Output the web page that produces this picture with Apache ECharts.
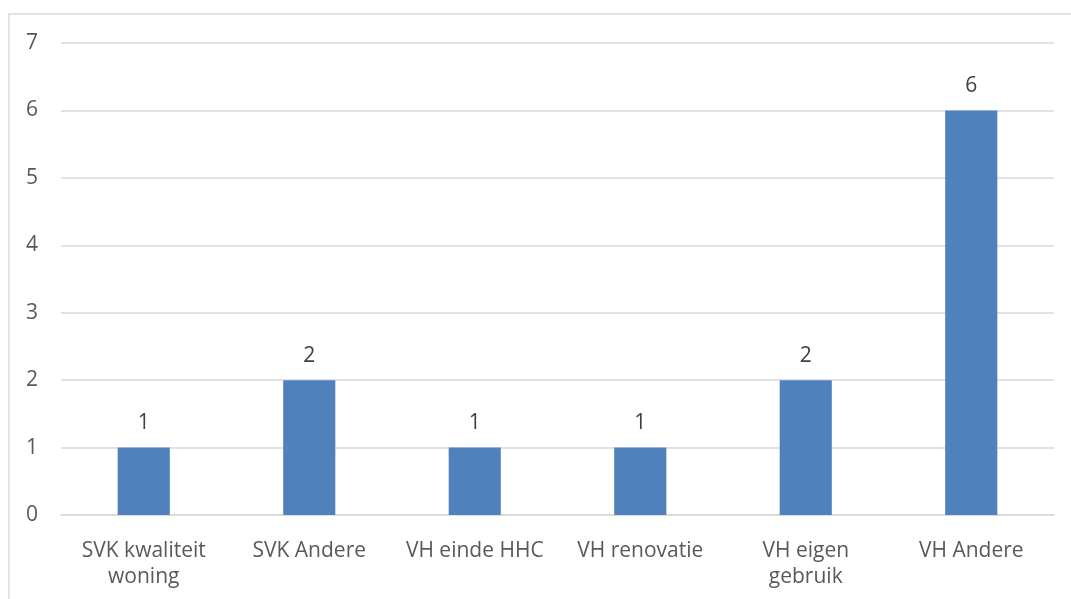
<!DOCTYPE html>
<html>
<head>
<meta charset="utf-8">
<script src="https://cdn.jsdelivr.net/npm/echarts@6/dist/echarts.min.js"></script>
<style>
  html, body { margin: 0; padding: 0; background: #fff; }
  #chart { width: 1071px; height: 599px; }
</style>
</head>
<body>
<div id="chart"></div>
<script>
const categories = ['SVK kwaliteit\nwoning', 'SVK Andere', 'VH einde HHC', 'VH renovatie', 'VH eigen\ngebruik', 'VH Andere']
const values = [1, 2, 1, 1, 2, 6]
const yTicks = [0, 1, 2, 3, 4, 5, 6, 7]

const font = '"Open Sans", "Liberation Sans", sans-serif'
const chart = echarts.init(document.getElementById('chart'))

chart.setOption({
  animation: false,
  graphic: [{
    type: 'rect',
    shape: { x: 9, y: 14, width: 1100, height: 620 },
    style: { fill: 'none', stroke: '#d9d9d9', lineWidth: 1.5 },
    silent: true
  }],
  grid: { left: 61, right: 17, top: 43, bottom: 84 },
  xAxis: {
    type: 'category',
    data: categories,
    axisLine: { lineStyle: { color: '#d9d9d9', width: 1.5 } },
    axisTick: { show: false },
    axisLabel: {
      color: '#595959',
      fontFamily: font,
      fontSize: 21,
      lineHeight: 26,
      margin: 23,
      interval: 0
    }
  },
  yAxis: {
    type: 'value',
    min: yTicks[0],
    max: yTicks[yTicks.length - 1],
    interval: 1,
    axisLine: { show: false },
    axisTick: { show: false },
    axisLabel: {
      color: '#595959',
      fontFamily: font,
      fontSize: 21,
      margin: 23,
      formatter: v => yTicks.includes(v) ? String(v) : ''
    },
    splitLine: { lineStyle: { color: '#d9d9d9', width: 1.5 } }
  },
  series: [{
    type: 'bar',
    data: values,
    barWidth: '31.5%',
    itemStyle: { color: '#4f81bd' },
    label: {
      show: true,
      position: 'top',
      distance: 14,
      color: '#404040',
      fontFamily: font,
      fontSize: 21
    }
  }]
})
</script>
</body>
</html>
